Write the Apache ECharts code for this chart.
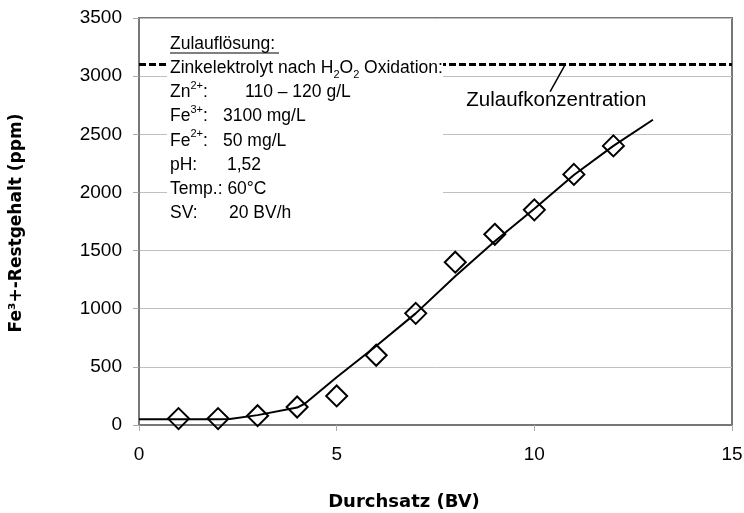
<!DOCTYPE html>
<html>
<head>
<meta charset="utf-8">
<title>Fe3+-Restgehalt</title>
<script src="https://cdn.jsdelivr.net/npm/echarts@6/dist/echarts.min.js"></script>
<style>
  html, body { margin: 0; padding: 0; background: #fff; }
  #chart { width: 744px; height: 513px; }
</style>
</head>
<body>
<div id="chart"></div>
<script>
// Messwerte (Rauten)
const bvMeasured = [1, 2, 3, 4, 5, 6, 7, 8, 9, 10, 11, 12];
const feMeasured = [55, 55, 80, 155, 250, 600, 960, 1400, 1640, 1850, 2155, 2400];

// Ausgleichskurve
const bvFit = [0, 1, 2, 2.3, 3, 4, 4.2, 5, 6, 7, 8, 9, 10, 11, 12, 13];
const feFit = [50, 50, 50, 52, 85, 150, 185, 410, 680, 960, 1280, 1580, 1860, 2150, 2400, 2625];

// Zulaufkonzentration (gestrichelt)
const feedBv = [0, 15];
const feedLevel = 3100;

// Achsen
const xMin = 0, xMax = 15, xStep = 5;
const yMin = 0, yMax = 3500, yStep = 500;
const xTitle = 'Durchsatz (BV)';
const yTitle = 'Fe³+-Restgehalt (ppm)';

// Textblock links oben
const noteLabels = [
  '{u|Zulauflösung:}',
  '{t|Zinkelektrolyt nach H}{sub|2}{t|O}{sub|2}{t| Oxidation:}',
  '{t|Zn}{sup|2+}{t|:}',
  '{t|Fe}{sup|3+}{t|:}',
  '{t|Fe}{sup|2+}{t|:}',
  '{t|pH:}',
  '{t|Temp.: 60°C}',
  '{t|SV:}'
];
const noteValues = ['', '', '110 – 120 g/L', '3100 mg/L', '50 mg/L', '1,52', '', '20 BV/h'];
const feedLabel = 'Zulaufkonzentration';

const chart = echarts.init(document.getElementById('chart'));

const font = '"Liberation Sans", Arial, sans-serif';
const titleFont = '"DejaVu Sans", sans-serif';
const richStyles = {
  t: {fontSize: 17.5, fontFamily: font, color: '#000', lineHeight: 24},
  u: {fontSize: 17.5, fontFamily: font, color: '#000', lineHeight: 24},
  sup: {fontSize: 11, fontFamily: font, color: '#000', lineHeight: 20, verticalAlign: 'top'},
  sub: {fontSize: 11, fontFamily: font, color: '#000', lineHeight: 14, verticalAlign: 'bottom'}
};
const valueX = [0, 0, 245, 223, 223, 227, 0, 229];

const baseGraphics = [
  {
    type: 'rect',
    shape: {x: 167, y: 33, width: 276, height: 194},
    style: {fill: '#fff'},
    z: 100
  },
  {
    type: 'line',
    shape: {x1: 170, y1: 53, x2: 279, y2: 53},
    style: {stroke: '#000', lineWidth: 1},
    z: 101
  },
  // Achsentitel
  {
    type: 'text',
    x: 404,
    y: 502,
    z: 101,
    style: {text: xTitle, font: 'bold 18px ' + titleFont, fill: '#000', align: 'center', verticalAlign: 'middle'}
  },
  {
    type: 'text',
    x: 17,
    y: 223,
    rotation: Math.PI / 2,
    z: 101,
    style: {text: yTitle, font: 'bold 17px ' + titleFont, fill: '#000', align: 'center', verticalAlign: 'middle'}
  }
];
noteLabels.forEach(function (txt, i) {
  const y = 44 + i * 24.2;
  baseGraphics.push({
    type: 'text',
    x: 170,
    y: y,
    z: 101,
    style: {text: txt, rich: richStyles, verticalAlign: 'middle', align: 'left'}
  });
  if (noteValues[i]) {
    baseGraphics.push({
      type: 'text',
      x: valueX[i],
      y: y,
      z: 101,
      style: {text: '{t|' + noteValues[i] + '}', rich: richStyles, verticalAlign: 'middle', align: 'left'}
    });
  }
});

const option = {
  animation: false,
  backgroundColor: '#fff',
  grid: {
    left: 139,
    right: 12,
    top: 18,
    bottom: 88,
    containLabel: false,
    outerBoundsMode: 'none',
    show: true,
    borderColor: '#777',
    borderWidth: 2,
    backgroundColor: 'transparent'
  },
  xAxis: {
    type: 'value',
    min: xMin,
    max: xMax,
    interval: xStep,
    axisLine: {show: true, onZero: false, lineStyle: {color: '#777', width: 2}},
    axisTick: {show: true, inside: false, length: 6, lineStyle: {color: '#aaa', width: 1}},
    axisLabel: {margin: 20, fontFamily: font, fontSize: 19, color: '#000', formatter: function (v) { return String(v); }},
    splitLine: {show: false}
  },
  yAxis: {
    type: 'value',
    min: yMin,
    max: yMax,
    interval: yStep,
    axisLine: {show: true, onZero: false, lineStyle: {color: '#777', width: 2}},
    axisTick: {show: true, inside: false, length: 6, lineStyle: {color: '#aaa', width: 1}},
    axisLabel: {margin: 17, fontFamily: font, fontSize: 19, color: '#000', formatter: function (v) { return String(v); }},
    splitLine: {show: true, lineStyle: {color: '#c0c0c0', width: 1}}
  },
  series: [
    {
      name: 'Zulaufkonzentration',
      type: 'line',
      data: feedBv.map(function (x) { return [x, feedLevel]; }),
      symbol: 'none',
      silent: true,
      lineStyle: {color: '#000', width: 3, type: [7, 3]},
      z: 2
    },
    {
      name: 'Ausgleich',
      type: 'line',
      data: bvFit.map(function (x, i) { return [x, feFit[i]]; }),
      symbol: 'none',
      lineStyle: {color: '#000', width: 2},
      z: 3
    },
    {
      name: 'Messwerte',
      type: 'scatter',
      data: bvMeasured.map(function (x, i) { return [x, feMeasured[i]]; }),
      symbol: 'diamond',
      symbolSize: 21,
      itemStyle: {color: 'rgba(0,0,0,0)', borderColor: '#000', borderWidth: 2, opacity: 1},
      z: 4
    }
  ],
  graphic: baseGraphics
};
chart.setOption(option);

// Beschriftung der Zulauflinie mit Hinweislinie
const labelPos = chart.convertToPixel({gridIndex: 0}, [8.28, 2795]);
const leadFrom = chart.convertToPixel({gridIndex: 0}, [10.4, 2866]);
const leadTo = chart.convertToPixel({gridIndex: 0}, [10.78, feedLevel]);
chart.setOption({
  graphic: baseGraphics.concat([
    {
      type: 'text',
      x: labelPos[0],
      y: labelPos[1],
      z: 101,
      style: {text: feedLabel, font: '20.5px ' + font, fill: '#000', verticalAlign: 'middle', align: 'left'}
    },
    {
      type: 'line',
      shape: {x1: leadFrom[0], y1: leadFrom[1], x2: leadTo[0], y2: leadTo[1]},
      style: {stroke: '#000', lineWidth: 1.5},
      z: 101
    }
  ])
});
</script>
</body>
</html>
